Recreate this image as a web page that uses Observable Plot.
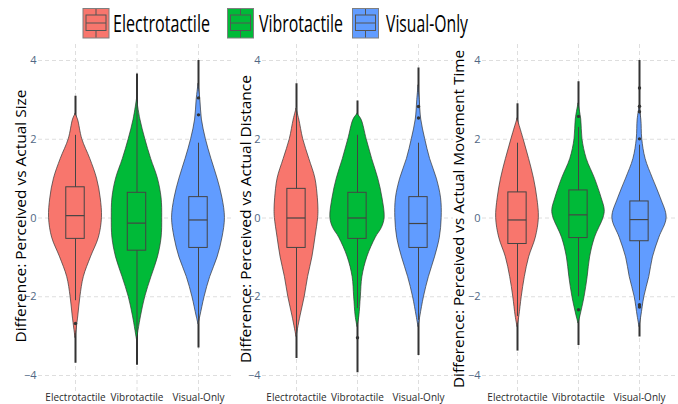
<!DOCTYPE html>
<html>
<head>
<meta charset="utf-8">
<script src="https://cdn.jsdelivr.net/npm/d3@7"></script>
<script src="https://cdn.jsdelivr.net/npm/@observablehq/plot@0.6"></script>
<style>
  body { margin: 0; background: white; }
  #wrap { position: relative; width: 678px; height: 404px; overflow: hidden; font-family: "Open Sans", sans-serif; }
  #wrap > svg { position: absolute; }
</style>
</head>
<body>
<div id="wrap"></div>
<script>
const groups = ["Electrotactile", "Vibrotactile", "Visual-Only"];
const fills = ["#F8766D", "#00BA38", "#619CFF"];
const yTitles = [
  "Difference: Perceived vs Actual Size",
  "Difference: Perceived vs Actual Distance",
  "Difference: Perceived vs Actual Movement Time"
];
const yTicks = [-4, -2, 0, 2, 4];

// violin profiles: [value, half-width (in category units)]
const sizeElectro = [[2.64,0],[2.5,0.04],[2,0.11],[1.5,0.24],[1,0.35],[0.5,0.41],[0,0.43],[-0.5,0.38],[-1,0.25],[-1.5,0.135],[-2,0.08],[-2.5,0.045],[-3.05,0]];
const sizeVibro = [[3.02,0],[2.5,0.055],[2,0.135],[1.5,0.23],[1,0.34],[0.5,0.40],[0,0.41],[-0.5,0.40],[-1,0.34],[-1.5,0.235],[-2,0.135],[-2.5,0.065],[-3.1,0]];
const sizeVisual = [[3.4,0],[3,0.03],[2.5,0.055],[2,0.12],[1.5,0.21],[1,0.31],[0.5,0.39],[0,0.43],[-0.5,0.39],[-1,0.31],[-1.5,0.19],[-2,0.1],[-2.5,0.03],[-2.7,0]];

const distElectro = [[2.77,0],[2.5,0.045],[2,0.11],[1.5,0.21],[1,0.31],[0.5,0.35],[0.2,0.36],[0,0.355],[-0.5,0.31],[-1,0.26],[-1.5,0.19],[-2,0.135],[-2.5,0.065],[-3.02,0]];
const distVibro = [[2.64,0],[2.5,0.065],[2,0.15],[1.5,0.24],[1,0.34],[0.5,0.41],[0,0.445],[-0.25,0.4],[-0.5,0.30],[-1,0.16],[-1.5,0.08],[-2,0.055],[-2.5,0.03],[-2.77,0]];
const distVisual = [[3.36,0],[3,0.02],[2.5,0.045],[2,0.11],[1.5,0.19],[1,0.30],[0.5,0.37],[0,0.38],[-0.5,0.35],[-1,0.27],[-1.5,0.17],[-2,0.09],[-2.5,0.03],[-2.77,0]];

const timeElectro = [[2.52,0],[2,0.1],[1.5,0.19],[1,0.27],[0.5,0.325],[0,0.35],[-0.5,0.30],[-1,0.19],[-1.5,0.12],[-2,0.07],[-2.5,0.03],[-2.77,0]];
const timeVibro = [[2.9,0],[2.5,0.045],[2,0.065],[1.5,0.135],[1,0.27],[0.5,0.38],[0.2,0.43],[0,0.41],[-0.5,0.27],[-1,0.19],[-1.5,0.15],[-2,0.1],[-2.5,0.03],[-2.68,0]];
const timeVisual = [[2.8,0],[2.5,0.03],[2,0.045],[1.5,0.1],[1,0.22],[0.5,0.35],[0,0.445],[-0.5,0.325],[-1,0.22],[-1.5,0.16],[-2,0.08],[-2.5,0.03],[-2.77,0]];

// box stats: [min, whiskerLow, q1, median, q3, whiskerHigh, max]
const sizeStats = [[-3.69,-2.1,-0.53,0.06,0.78,2.1,3.09],[-3.74,-2.9,-0.83,-0.13,0.64,2.9,3.66],[-3.3,-2.7,-0.76,-0.05,0.53,1.9,4.0]];
const distStats = [[-3.57,-3.0,-0.76,0,0.74,2.8,3.41],[-3.93,-2.3,-0.53,0,0.64,2.1,2.97],[-3.49,-2.6,-0.76,-0.14,0.53,1.9,3.81]];
const timeStats = [[-3.38,-2.5,-0.66,-0.05,0.65,1.9,2.9],[-3.24,-2.0,-0.51,0.08,0.70,2.3,3.46],[-3.02,-2.1,-0.59,-0.04,0.42,1.85,4.0]];

const sizeOutliers = [[-2.68],[],[3.05,2.62]];
const distOutliers = [[],[-3.04],[2.83,2.54]];
const timeOutliers = [[],[2.58,-2.33],[3.3,2.84,2.7,2.01,-2.2,-2.26]];

const wrap = document.getElementById("wrap");

// legend
const leg = d3.select(wrap).append("svg").attr("width", 678).attr("height", 44).style("left", "0px").style("top", "0px");
const legItems = [
  {x: 83, tx: 113, tl: 97},
  {x: 227.5, tx: 259, tl: 84},
  {x: 352.5, tx: 386, tl: 82}
];
legItems.forEach((it, g) => {
  const gg = leg.append("g");
  gg.append("rect").attr("x", it.x).attr("y", 8.5).attr("width", 26).attr("height", 29.5)
    .attr("fill", fills[g]).attr("stroke", "#7f7f7f").attr("stroke-width", 1);
  const cx = it.x + 13;
  gg.append("rect").attr("x", it.x + 3).attr("y", 15).attr("width", 20).attr("height", 15.5)
    .attr("fill", "none").attr("stroke", "#555").attr("stroke-width", 1);
  gg.append("line").attr("x1", it.x + 3).attr("x2", it.x + 23).attr("y1", 23).attr("y2", 23).attr("stroke", "#555");
  gg.append("line").attr("x1", cx).attr("x2", cx).attr("y1", 9).attr("y2", 15).attr("stroke", "#555");
  gg.append("line").attr("x1", cx).attr("x2", cx).attr("y1", 30.5).attr("y2", 37.5).attr("stroke", "#555");
  gg.append("text").attr("x", it.tx).attr("y", 32).text(groups[g])
    .attr("font-family", "Open Sans").attr("font-size", 23).attr("fill", "#000")
    .attr("textLength", it.tl).attr("lengthAdjust", "spacingAndGlyphs");
});

const panels = [
  {violins: [sizeElectro, sizeVibro, sizeVisual], stats: sizeStats, outliers: sizeOutliers, left: 0, width: 233, ml: 38, xr: [75, 198], tx: 22, ty: 172, tl: 253},
  {violins: [distElectro, distVibro, distVisual], stats: distStats, outliers: distOutliers, left: 233, width: 220, ml: 29, xr: [63, 185], tx: 14, ty: 175, tl: 288},
  {violins: [timeElectro, timeVibro, timeVisual], stats: timeStats, outliers: timeOutliers, left: 453, width: 225, ml: 29, xr: [64, 186], tx: 7, ty: 175, tl: 338}
];

panels.forEach((p, i) => {
  const boxes = p.stats.map((s, g) => ({g, name: groups[g], min: s[0], wlo: s[1], q1: s[2], med: s[3], q3: s[4], whi: s[5], max: s[6]}));
  const vdata = p.violins.flatMap((prof, g) => prof.map(([v, hw]) => ({g, name: groups[g], v, hw})));
  const odata = p.outliers.flatMap((o, g) => o.map(v => ({g, v})));
  const bw = 0.15;
  const svg = Plot.plot({
    width: p.width, height: 360,
    marginLeft: p.ml, marginRight: 0, marginTop: 0, marginBottom: 12,
    x: {domain: [0, 2], range: p.xr, axis: null},
    y: {domain: [-4, 4], range: [331, 16], axis: null},
    color: {domain: groups, range: fills},
    style: {background: "transparent", overflow: "visible", fontFamily: "Open Sans"},
    marks: [
      Plot.gridY(yTicks, {stroke: "#dedede", strokeOpacity: 1, strokeDasharray: "4,3"}),
      Plot.gridX([0, 1, 2], {stroke: "#dedede", strokeOpacity: 1, strokeDasharray: "4,3"}),
      Plot.axisY(yTicks, {tickSize: 0, tickPadding: 2, color: "#506784", fontSize: 11, label: null}),
      Plot.axisX([0, 1, 2], {tickSize: 0, tickPadding: 1, tickFormat: d => groups[Math.round(d)], fontSize: 10, color: "#2a2a2a", label: null}),
      Plot.ruleX(boxes, {x: "g", y1: "min", y2: "max", stroke: "#333", strokeWidth: 2}),
      ...groups.map((_, g) => Plot.areaX(vdata.filter(d => d.g === g), {
        y: "v", x1: d => d.g - d.hw, x2: d => d.g + d.hw, fill: "name",
        stroke: "#333", strokeWidth: 0.7, curve: "catmull-rom"
      })),
      Plot.ruleX(boxes, {x: "g", y1: "wlo", y2: "whi", stroke: "#444", strokeWidth: 1}),
      Plot.rect(boxes, {x1: d => d.g - bw, x2: d => d.g + bw, y1: "q1", y2: "q3", fill: "name", stroke: "#444", strokeWidth: 1}),
      Plot.ruleY(boxes, {y: "med", x1: d => d.g - bw, x2: d => d.g + bw, stroke: "#444", strokeWidth: 1.2}),
      Plot.dot(odata, {x: "g", y: "v", r: 1.7, fill: "#333", stroke: null})
    ]
  });
  svg.style.position = "absolute";
  svg.style.left = p.left + "px";
  svg.style.top = "44px";
  d3.select(svg).append("text")
    .attr("transform", `translate(${p.tx},${p.ty}) rotate(-90)`)
    .attr("text-anchor", "middle").attr("dominant-baseline", "middle")
    .attr("font-family", "Open Sans").attr("font-size", 14).attr("fill", "#000")
    .attr("textLength", p.tl).attr("lengthAdjust", "spacingAndGlyphs")
    .text(yTitles[i]);
  wrap.appendChild(svg);
});
</script>
</body>
</html>
